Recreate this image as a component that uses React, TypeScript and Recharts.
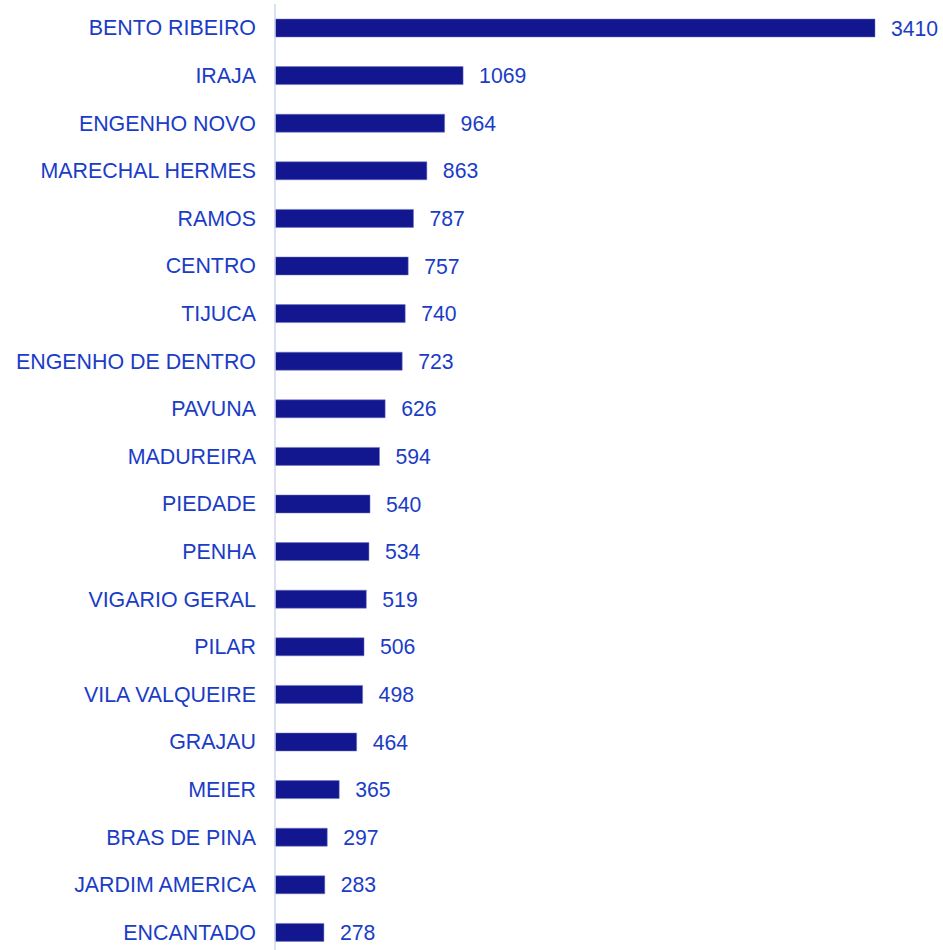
import React from "react";
import { BarChart, Bar, XAxis, YAxis, LabelList } from "recharts";

const categories = [
  "BENTO RIBEIRO",
  "IRAJA",
  "ENGENHO NOVO",
  "MARECHAL HERMES",
  "RAMOS",
  "CENTRO",
  "TIJUCA",
  "ENGENHO DE DENTRO",
  "PAVUNA",
  "MADUREIRA",
  "PIEDADE",
  "PENHA",
  "VIGARIO GERAL",
  "PILAR",
  "VILA VALQUEIRE",
  "GRAJAU",
  "MEIER",
  "BRAS DE PINA",
  "JARDIM AMERICA",
  "ENCANTADO",
];

const values = [3410, 1069, 964, 863, 787, 757, 740, 723, 626, 594, 540, 534, 519, 506, 498, 464, 365, 297, 283, 278];

const data = categories.map((name, i) => ({ name, value: values[i] }));

const TEXT = "#1a3cc6";
const BAR = "#13178f";
const FONT = "'Liberation Sans', Arial, sans-serif";

export default function App() {
  return (
    <div style={{ position: "absolute", left: 0, top: 0, width: 943, height: 950, overflow: "hidden", background: "#fff" }}>
      <BarChart
        width={943}
        height={956}
        data={data}
        layout="vertical"
        margin={{ top: 4, right: 68, bottom: 0, left: 0 }}
        barCategoryGap={0}
      >
        <XAxis type="number" hide domain={[0, 3410]} />
        <YAxis
          type="category"
          dataKey="name"
          width={275}
          axisLine={{ stroke: "#cdd6f4", strokeWidth: 1.5 }}
          tickLine={false}
          tickSize={0}
          tickMargin={19}
          interval={0}
          tick={{ fill: TEXT, fontSize: 21.4, fontFamily: FONT }}
        />
        <Bar dataKey="value" fill={BAR} barSize={18} isAnimationActive={false} stroke="#6f74c2" strokeWidth={0.5}>
          <LabelList
            dataKey="value"
            position="right"
            offset={16}
            fill={TEXT}
            style={{ fontSize: 21.2, fontFamily: FONT }}
          />
        </Bar>
      </BarChart>
    </div>
  );
}
